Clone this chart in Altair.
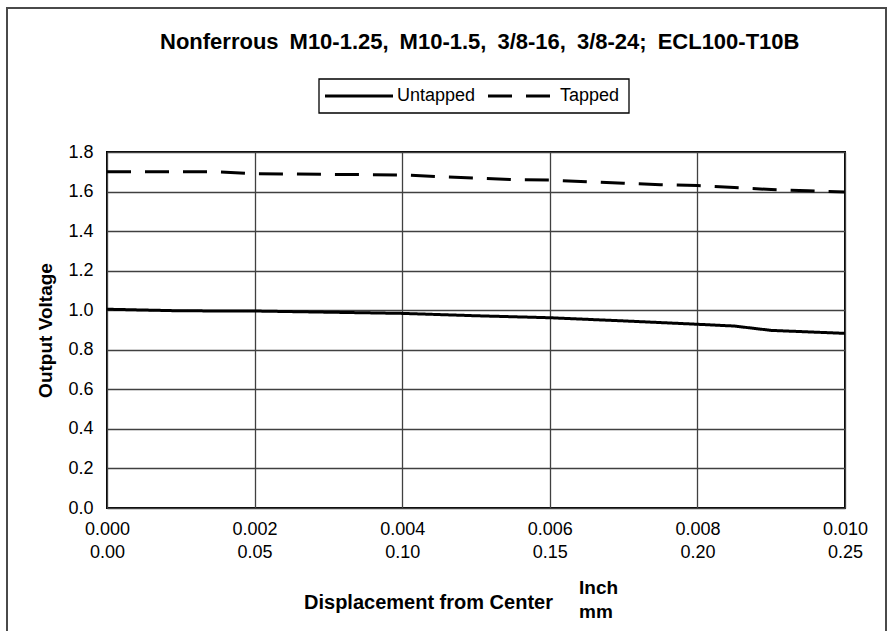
import json
import altair as alt
import pandas as pd

# ---------------- data ----------------
chart_title = "Nonferrous M10-1.25, M10-1.5, 3/8-16, 3/8-24; ECL100-T10B"
series_names = ["Untapped", "Tapped"]

untapped_x = [0.000, 0.001, 0.002, 0.003, 0.004, 0.005, 0.006, 0.007, 0.008, 0.0085, 0.009, 0.010]
untapped_v = [1.005, 0.997, 0.996, 0.990, 0.984, 0.972, 0.962, 0.946, 0.929, 0.920, 0.898, 0.883]

tapped_x = [0.000, 0.001, 0.0015, 0.002, 0.003, 0.004, 0.0045, 0.005, 0.0055, 0.006, 0.0065,
            0.007, 0.0075, 0.008, 0.0085, 0.009, 0.0095, 0.010]
tapped_v = [1.700, 1.700, 1.700, 1.690, 1.687, 1.684, 1.675, 1.668, 1.660, 1.658, 1.650,
            1.642, 1.635, 1.630, 1.620, 1.610, 1.604, 1.598]

x_ticks = [0.000, 0.002, 0.004, 0.006, 0.008, 0.010]
inch_labels = ["0.000", "0.002", "0.004", "0.006", "0.008", "0.010"]
mm_labels = ["0.00", "0.05", "0.10", "0.15", "0.20", "0.25"]
y_ticks = [0.0, 0.2, 0.4, 0.6, 0.8, 1.0, 1.2, 1.4, 1.6, 1.8]
x_title = "Displacement from Center"
y_title = "Output Voltage"
unit_labels = ["Inch", "mm"]

# ---------------- build ----------------
rows = []
for xv, vv in zip(untapped_x, untapped_v):
    rows.append({"x": xv, "v": vv, "s": series_names[0]})
for xv, vv in zip(tapped_x, tapped_v):
    rows.append({"x": xv, "v": vv, "s": series_names[1]})
df = pd.DataFrame(rows)

FONT = "Liberation Sans"
W, H = 738, 356
DASH = [24, 14]

label_pairs = "[" + ",".join(json.dumps([a, b]) for a, b in zip(inch_labels, mm_labels)) + "]"
label_expr = label_pairs + "[round(datum.value / 0.002)]"

lines = alt.Chart(df).mark_line(strokeWidth=3, color="black").encode(
    x=alt.X(
        "x:Q",
        scale=alt.Scale(domain=[0, 0.01], nice=False, zero=False),
        axis=alt.Axis(
            values=x_ticks,
            labelExpr=label_expr,
            labelFont=FONT,
            labelFontSize=18,
            labelColor="black",
            labelLineHeight=23,
            labelPadding=12,
            labelFlush=False,
            labelOverlap=False,
            labelBound=False,
            ticks=False,
            domain=False,
            grid=True,
            gridColor="#404040",
            gridWidth=1.3,
            title=x_title,
            titleFont=FONT,
            titleFontSize=20,
            titleFontWeight="bold",
            titleColor="black",
            titleX=321,
            titleY=94,
            titleAlign="center",
            titleBaseline="middle",
        ),
    ),
    y=alt.Y(
        "v:Q",
        scale=alt.Scale(domain=[0, 1.8], nice=False, zero=False),
        axis=alt.Axis(
            values=y_ticks,
            format=".1f",
            labelFont=FONT,
            labelFontSize=18,
            labelColor="black",
            labelPadding=14,
            labelOverlap=False,
            ticks=False,
            domain=False,
            grid=True,
            gridColor="#404040",
            gridWidth=1.3,
            title=y_title,
            titleFont=FONT,
            titleFontSize=19,
            titleFontWeight="bold",
            titleColor="black",
            titleX=-62,
            titleY=H / 2,
            titleAngle=270,
            titleAlign="center",
            titleBaseline="middle",
        ),
    ),
    strokeDash=alt.StrokeDash(
        "s:N",
        scale=alt.Scale(domain=series_names, range=[[1, 0], DASH]),
        legend=None,
    ),
)

# title (wide word spacing as in the reference)
title_df = pd.DataFrame({"t": [chart_title.replace(" ", "\u2002")]})
title_mark = alt.Chart(title_df).mark_text(
    font=FONT, fontSize=22, fontWeight="bold", color="black", align="left", baseline="alphabetic"
).encode(text="t:N", x=alt.value(53), y=alt.value(-103))

# legend box
legend_box = alt.Chart(pd.DataFrame({"k": [1]})).mark_rect(
    fill="white", stroke="black", strokeWidth=1.3
).encode(x=alt.value(212), x2=alt.value(522), y=alt.value(-73), y2=alt.value(-39))

LEG_Y = -56
sym_untapped = alt.Chart(pd.DataFrame({"s": [series_names[0]]})).mark_rule(
    strokeWidth=3, color="black"
).encode(x=alt.value(218), x2=alt.value(286), y=alt.value(LEG_Y))
txt_untapped = alt.Chart(pd.DataFrame({"s": [series_names[0]]})).mark_text(
    font=FONT, fontSize=18, color="black", align="left", baseline="middle"
).encode(text="s:N", x=alt.value(290), y=alt.value(LEG_Y))
sym_tapped = alt.Chart(pd.DataFrame({"s": [series_names[1]]})).mark_rule(
    strokeWidth=3, color="black", strokeDash=DASH
).encode(x=alt.value(381), x2=alt.value(443), y=alt.value(LEG_Y))
txt_tapped = alt.Chart(pd.DataFrame({"s": [series_names[1]]})).mark_text(
    font=FONT, fontSize=18, color="black", align="left", baseline="middle"
).encode(text="s:N", x=alt.value(453), y=alt.value(LEG_Y))

units_df = pd.DataFrame({"t": ["\n".join(unit_labels)]})
units_mark = alt.Chart(units_df).mark_text(
    font=FONT, fontSize=19, fontWeight="bold", color="black", align="left", baseline="middle",
    lineBreak="\n", lineHeight=24
).encode(text="t:N", x=alt.value(472), y=alt.value(436))

frame = alt.Chart(pd.DataFrame({"k": [1]})).mark_rect(filled=False, stroke="#4a4a4a", strokeWidth=2).encode(
    x=alt.value(-100), x2=alt.value(779), y=alt.value(-144), y2=alt.value(520)
)

chart = alt.layer(
    frame, lines, title_mark, legend_box, sym_untapped, txt_untapped, sym_tapped, txt_tapped, units_mark
).properties(
    width=W,
    height=H,
    autosize=alt.AutoSizeParams(type="none"),
    padding={"left": 107, "top": 152, "right": 46, "bottom": 123},
    background="white",
).configure_view(stroke="black", strokeWidth=2)

chart.save("out.html", embed_options={"renderer": "svg", "actions": False})
